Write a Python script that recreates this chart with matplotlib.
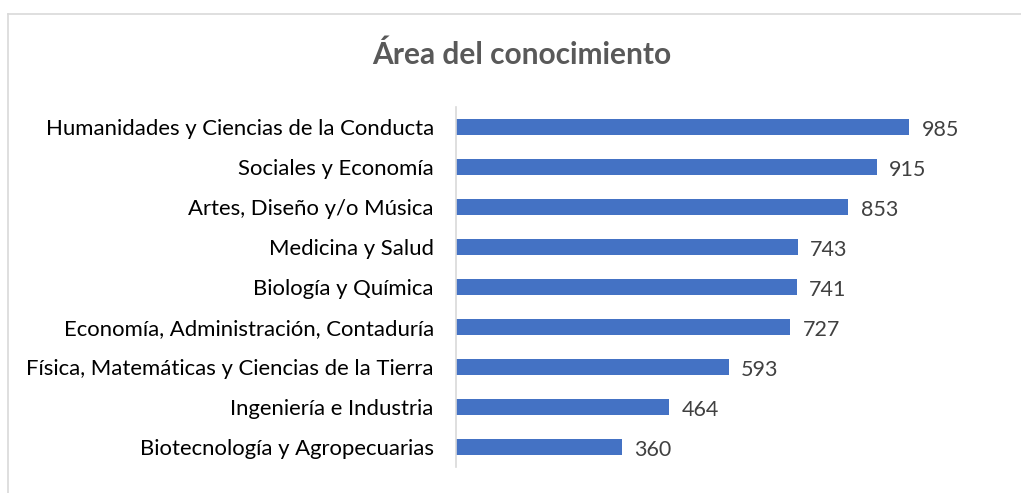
import matplotlib
matplotlib.use("Agg")
import matplotlib.pyplot as plt
from matplotlib.lines import Line2D

categories = [
    "Humanidades y Ciencias de la Conducta",
    "Sociales y Economía",
    "Artes, Diseño y/o Música",
    "Medicina y Salud",
    "Biología y Química",
    "Economía, Administración, Contaduría",
    "Física, Matemáticas y Ciencias de la Tierra",
    "Ingeniería e Industria",
    "Biotecnología y Agropecuarias",
]
values = [985, 915, 853, 743, 741, 727, 593, 464, 360]
title = "Área del conocimiento"

plt.rcParams['font.family'] = ['Lato', 'DejaVu Sans']

W, H = 1021, 493
fig = plt.figure(figsize=(W / 100, H / 100), dpi=100)
ax = fig.add_axes([456 / W, 1 - 467 / H, (1011 - 456) / W, (467 - 107) / H])

ypos = list(range(len(categories)))
bars = ax.barh(ypos, values, height=0.40, color="#4472C4")
ax.set_ylim(len(categories) - 0.5, -0.5)
ax.set_xlim(0, 1207)
ax.set_yticks(ypos)
ax.set_yticklabels(categories, fontsize=15.9, color="#000000")
ax.tick_params(axis="y", length=0, pad=16)
ax.set_xticks([])
for s in ["top", "right", "bottom"]:
    ax.spines[s].set_visible(False)
ax.spines["left"].set_color("#D9D9D9")
ax.spines["left"].set_linewidth(1.2)

for b, v in zip(bars, values):
    ax.annotate(str(v), xy=(b.get_width(), b.get_y() + b.get_height() / 2),
                xytext=(9, -2), textcoords="offset points", va="center", ha="left",
                fontsize=15.5, color="#404040")

fig.text(522 / W, 1 - 55 / H, title, ha="center", va="center", fontsize=21.5,
         fontweight="bold", color="#595959")

# chart border (top and left)
fig.add_artist(Line2D([8 / W, 1.0], [1 - 14 / H, 1 - 14 / H], transform=fig.transFigure,
                      color="#D9D9D9", linewidth=1.2))
fig.add_artist(Line2D([8 / W, 8 / W], [1 - 14 / H, 0.0], transform=fig.transFigure,
                      color="#D9D9D9", linewidth=1.2))

fig.savefig("out.png", dpi=100)
